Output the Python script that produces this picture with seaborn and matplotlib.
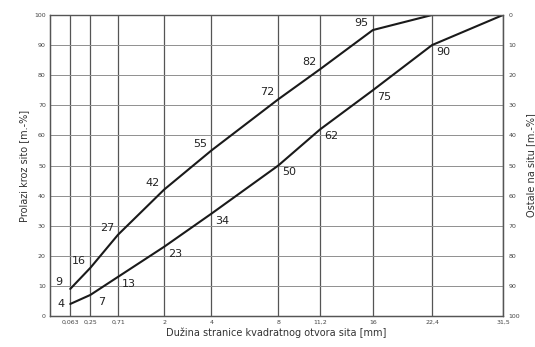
import numpy as np
import pandas as pd
import matplotlib
matplotlib.use("Agg")
import matplotlib.pyplot as plt
import seaborn as sns

# Sieve sizes [mm] and passing percentages
sieves = [0.063, 0.25, 0.71, 2, 4, 8, 11.2, 16, 22.4, 31.5]
sieve_labels = ["0,063", "0,25", "0,71", "2", "4", "8", "11,2", "16", "22,4", "31,5"]
upper_curve = [9, 16, 27, 42, 55, 72, 82, 95, 100, 100]
lower_curve = [4, 7, 13, 23, 34, 50, 62, 75, 90, 100]
# which points get a number written next to them
upper_labelled = 8
lower_labelled = 9

sns.set_theme(style="white")
plt.rcParams['font.family'] = ['DejaVu Sans']

df = pd.DataFrame({
    'sito': sieves * 2,
    'prolaz': upper_curve + lower_curve,
    'krivulja': ['gornja'] * len(sieves) + ['donja'] * len(sieves),
})

fig = plt.figure(figsize=(5.35, 3.47), dpi=100)
ax = fig.add_axes([50 / 535, 1 - 316 / 347, 453 / 535, 301 / 347])

# sqrt scale on x (Fuller type grading chart)
ax.set_xscale('function', functions=(lambda x: np.sqrt(np.clip(x, 0, None)), np.square))
ax.set_xlim(0, 31.5)
ax.set_ylim(0, 100)

# grid
for s in sieves:
    ax.axvline(s, color='#555555', lw=0.9, zorder=1)
for v in range(10, 100, 10):
    ax.axhline(v, color='#8f8f8f', lw=0.7, zorder=1)

sns.lineplot(data=df, x='sito', y='prolaz', units='krivulja', estimator=None,
             color='#1a1a1a', lw=1.5, ax=ax, zorder=3)

# point labels: upper curve to the upper left, lower curve to the lower right
for s, v in zip(sieves[:upper_labelled], upper_curve[:upper_labelled]):
    ax.annotate(str(v), (s, v), xytext=(-8, 5), textcoords='offset points',
                ha='center', va='center', fontsize=8, color='#222222')
for i, (s, v) in enumerate(zip(sieves[:lower_labelled], lower_curve[:lower_labelled])):
    off = (-7, 0) if i == 0 else (8, -5)
    ax.annotate(str(v), (s, v), xytext=off, textcoords='offset points',
                ha='center', va='center', fontsize=8, color='#222222')

ax.set_xticks(sieves)
ax.set_xticklabels(sieve_labels)
ax.set_yticks(range(0, 101, 10))
ax.tick_params(axis='both', labelsize=4.5, colors='#444444', length=0, pad=3)
ax.set_xlabel('Dužina stranice kvadratnog otvora sita [mm]', fontsize=7, color='#333333', labelpad=2)
ax.set_ylabel('Prolazi kroz sito [m.-%]', fontsize=7, color='#333333', labelpad=4)

# right axis: retained on sieve
ax2 = ax.twinx()
ax2.set_ylim(100, 0)
ax2.set_yticks(range(0, 101, 10))
ax2.tick_params(axis='y', labelsize=4.5, colors='#444444', length=0, pad=4)
ax2.set_ylabel('Ostale na situ [m.-%]', fontsize=7, color='#333333', labelpad=4)

for a in (ax, ax2):
    for side in a.spines.values():
        side.set_color('#555555')
        side.set_linewidth(0.9)
ax.spines['top'].set_color('#999999')

fig.savefig('out.png', dpi=100)
